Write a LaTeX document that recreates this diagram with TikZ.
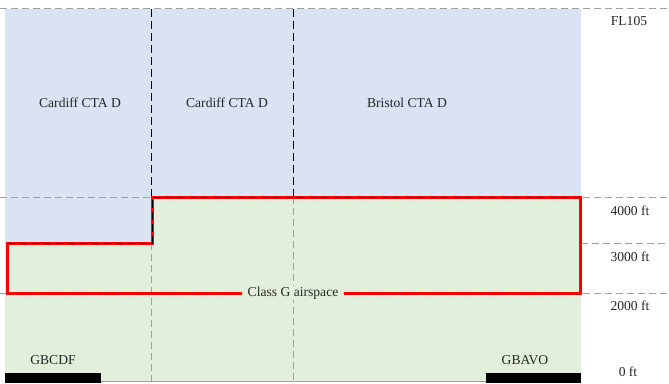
\documentclass[tikz,border=0pt]{standalone}
\usepackage{fontspec}
\setmainfont{Liberation Serif}
\definecolor{ctablue}{RGB}{218,227,243}
\definecolor{gGreen}{RGB}{226,239,218}
\definecolor{refgray}{RGB}{160,160,160}
\definecolor{redline}{RGB}{255,0,0}
\begin{document}
\begin{tikzpicture}[x=1pt,y=-1pt,
  lbl/.style={font=\fontsize{13.6}{15}\selectfont, inner sep=1pt, text=black!85},
  grayd/.style={draw=refgray, line width=0.8pt, dash pattern=on 7pt off 4pt},
  blackd/.style={draw=black, line width=1pt, dash pattern=on 8pt off 4pt},
  redb/.style={draw=redline, line width=3pt, line join=miter},
  bar/.style={fill=black}]
\useasboundingbox (0,0) rectangle (669,383);
% fills
\fill[ctablue] (5,9) rectangle (581,381);
\fill[gGreen] (5,243) -- (152,243) -- (152,197) -- (581,197) -- (581,381) -- (5,381) -- cycle;
% horizontal reference lines
\draw[grayd] (0,8) -- (669,8);
\draw[grayd] (0,197) -- (669,197);
\draw[grayd] (581,243) -- (669,243);
\draw[grayd] (0,293) -- (669,293);
% vertical lines
\draw[blackd] (151,9) -- (151,243);
\draw[grayd] (151,243) -- (151,381);
\draw[blackd] (293,9) -- (293,197);
\draw[grayd] (293,197) -- (293,381);
% ground
\draw[refgray, line width=1pt] (5,381) -- (581,381);
\fill[bar] (5,373) rectangle (101,383);
\fill[bar] (486,373) rectangle (581,383);
% class G outline
\node[lbl, fill=gGreen, inner xsep=5pt] (classg) at (293,293) {Class G airspace};
\draw[redb] (classg.west) -- (7,293) -- (7,243) -- (152,243) -- (152,197) -- (580,197) -- (580,293) -- (classg.east);
\draw[blackd] (7,243) -- (152,243) -- (152,197) -- (580,197);
\draw[black!75, line width=0.8pt, dash pattern=on 7pt off 4pt] (classg.west) -- (8,293);
\draw[black!75, line width=0.8pt, dash pattern=on 7pt off 4pt] (classg.east) -- (579,293);
% labels
\node[lbl] (cdf1) at (80,103) {Cardiff CTA D};
\node[lbl] (cdf2) at (227,103) {Cardiff CTA D};
\node[lbl] (bri) at (407,103) {Bristol CTA D};
\node[lbl] (fl) at (629,21) {FL105};
\node[lbl] (a4) at (630,211) {4000 ft};
\node[lbl] (a3) at (630,257) {3000 ft};
\node[lbl] (a2) at (630,306) {2000 ft};
\node[lbl] (a0) at (628,372) {0 ft};
\node[lbl] (gbcdf) at (53,360) {GBCDF};
\node[lbl] (gbavo) at (525,360) {GBAVO};
\end{tikzpicture}
\end{document}
